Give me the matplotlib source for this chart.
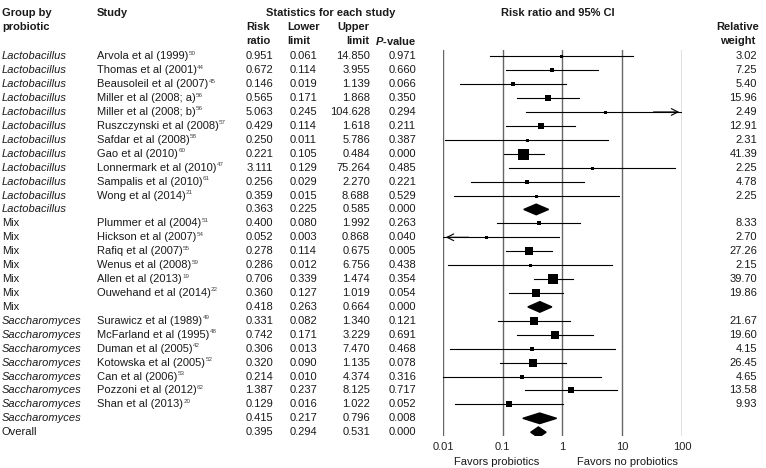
import numpy as np
import matplotlib
matplotlib.use("Agg")
import matplotlib.pyplot as plt
from matplotlib.transforms import blended_transform_factory
from matplotlib.patches import Polygon

plt.rcParams['font.family'] = ['Liberation Sans', 'DejaVu Sans']
plt.rcParams['mathtext.fontset'] = 'custom'
plt.rcParams['mathtext.rm'] = 'Liberation Sans'
plt.rcParams['mathtext.it'] = 'Liberation Sans:italic:bold'

# data
groups = ['Lactobacillus'] * 12 + ['Mix'] * 7 + ['Saccharomyces'] * 8 + ['Overall']
studies = ['Arvola et al (1999)', 'Thomas et al (2001)', 'Beausoleil et al (2007)',
           'Miller et al (2008; a)', 'Miller et al (2008; b)', 'Ruszczynski et al (2008)',
           'Safdar et al (2008)', 'Gao et al (2010)', 'Lonnermark et al (2010)',
           'Sampalis et al (2010)', 'Wong et al (2014)', '',
           'Plummer et al (2004)', 'Hickson et al (2007)', 'Rafiq et al (2007)',
           'Wenus et al (2008)', 'Allen et al (2013)', 'Ouwehand et al (2014)', '',
           'Surawicz et al (1989)', 'McFarland et al (1995)', 'Duman et al (2005)',
           'Kotowska et al (2005)', 'Can et al (2006)', 'Pozzoni et al (2012)',
           'Shan et al (2013)', '', '']
refs = ['50', '44', '45', '56', '56', '57', '58', '60', '47', '61', '21', '',
        '51', '54', '55', '59', '19', '22', '',
        '49', '48', '42', '52', '53', '62', '20', '', '']
rr = [0.951, 0.672, 0.146, 0.565, 5.063, 0.429, 0.250, 0.221, 3.111, 0.256, 0.359, 0.363,
      0.400, 0.052, 0.278, 0.286, 0.706, 0.360, 0.418,
      0.331, 0.742, 0.306, 0.320, 0.214, 1.387, 0.129, 0.415, 0.395]
lower = [0.061, 0.114, 0.019, 0.171, 0.245, 0.114, 0.011, 0.105, 0.129, 0.029, 0.015, 0.225,
         0.080, 0.003, 0.114, 0.012, 0.339, 0.127, 0.263,
         0.082, 0.171, 0.013, 0.090, 0.010, 0.237, 0.016, 0.217, 0.294]
upper = [14.850, 3.955, 1.139, 1.868, 104.628, 1.618, 5.786, 0.484, 75.264, 2.270, 8.688, 0.585,
         1.992, 0.868, 0.675, 6.756, 1.474, 1.019, 0.664,
         1.340, 3.229, 7.470, 1.135, 4.374, 8.125, 1.022, 0.796, 0.531]
pval = [0.971, 0.660, 0.066, 0.350, 0.294, 0.211, 0.387, 0.000, 0.485, 0.221, 0.529, 0.000,
        0.263, 0.040, 0.005, 0.438, 0.354, 0.054, 0.000,
        0.121, 0.691, 0.468, 0.078, 0.316, 0.717, 0.052, 0.008, 0.000]
weight = [3.02, 7.25, 5.40, 15.96, 2.49, 12.91, 2.31, 41.39, 2.25, 4.78, 2.25, np.nan,
          8.33, 2.70, 27.26, 2.15, 39.70, 19.86, np.nan,
          21.67, 19.60, 4.15, 26.45, 4.65, 13.58, 9.93, np.nan, np.nan]
xticks = [0.01, 0.1, 1, 10, 100]
xticklabels = ['0.01', '0.1', '1', '10', '100']

W, H = 766, 468
fig = plt.figure(figsize=(W / 100, H / 100), dpi=100)

def fx(x):
    return x / W

def fy(y):
    return 1 - y / H

n = len(rr)
ax = fig.add_axes([fx(443), fy(436), (682 - 443) / W, (436 - 50) / H])
ax.set_xscale('log')
ax.set_xlim(0.01, 100)
ax.set_ylim(n - 1 + 0.27, -0.45)
for s in ax.spines.values():
    s.set_visible(False)
ax.set_yticks([])
ax.set_xticks(xticks)
ax.set_xticklabels(xticklabels, fontsize=8, color='#222222')
ax.minorticks_off()
ax.tick_params(axis='x', length=0, pad=4)
for t in xticks:
    ax.axvline(t, color='#666666', lw=1, zorder=1)

fs = 8
tc = '#1a1a1a'
tr = blended_transform_factory(fig.transFigure, ax.transData)
for i in range(n):
    g = groups[i]
    style = 'italic' if g in ('Lactobacillus', 'Saccharomyces') else 'normal'
    fig.text(fx(2), i, g, transform=tr, fontsize=fs, style=style, va='center', color=tc)
    if studies[i]:
        st = fig.text(fx(97), i, studies[i], transform=tr, fontsize=fs, va='center', color=tc)
        # tiny superscript reference number
        ax.annotate(refs[i], xy=(1, 0.8), xycoords=st, xytext=(0.2, 0), textcoords='offset points',
                    fontsize=4.5, color='#444444', va='center', ha='left', annotation_clip=False)
    fig.text(fx(273), i, f'{rr[i]:.3f}', transform=tr, fontsize=fs, va='center', ha='right', color=tc)
    fig.text(fx(317), i, f'{lower[i]:.3f}', transform=tr, fontsize=fs, va='center', ha='right', color=tc)
    fig.text(fx(370), i, f'{upper[i]:.3f}', transform=tr, fontsize=fs, va='center', ha='right', color=tc)
    fig.text(fx(416), i, f'{pval[i]:.3f}', transform=tr, fontsize=fs, va='center', ha='right', color=tc)
    if not np.isnan(weight[i]):
        fig.text(fx(757), i, f'{weight[i]:.2f}', transform=tr, fontsize=fs, va='center', ha='right', color=tc)

    if np.isnan(weight[i]):
        # summary diamond
        h = 0.38
        d = Polygon([[lower[i], i], [rr[i], i - h], [upper[i], i], [rr[i], i + h]],
                    closed=True, color='black', zorder=3)
        ax.add_patch(d)
    else:
        lo = max(lower[i], 0.01)
        hi = min(upper[i], 100)
        ax.plot([lo, hi], [i, i], color='black', lw=0.8, zorder=2)
        if upper[i] > 100:
            ax.annotate('', xy=(100, i), xytext=(30, i), annotation_clip=False,
                        arrowprops=dict(arrowstyle='->', lw=0.8, color='black', mutation_scale=12))
        if lower[i] < 0.01:
            ax.annotate('', xy=(0.01, i), xytext=(0.03, i), annotation_clip=False,
                        arrowprops=dict(arrowstyle='->', lw=0.8, color='black', mutation_scale=12))
        side = max(11 * np.sqrt(weight[i] / 41.39), 3) * 0.72
        ax.scatter([rr[i]], [i], marker='s', s=side ** 2, color='black', zorder=4, linewidths=0)

# headers
bold = dict(fontsize=fs, fontweight='bold', color=tc)
fig.text(fx(2), fy(13), 'Group by', va='center', **bold)
fig.text(fx(2), fy(27), 'probiotic', va='center', **bold)
fig.text(fx(97), fy(13), 'Study', va='center', **bold)
fig.text(fx(331), fy(13), 'Statistics for each study', va='center', ha='center', **bold)
fig.text(fx(246), fy(27), 'Risk', va='center', **bold)
fig.text(fx(246), fy(41), 'ratio', va='center', **bold)
fig.text(fx(287), fy(27), 'Lower', va='center', **bold)
fig.text(fx(287), fy(41), 'limit', va='center', **bold)
fig.text(fx(369), fy(27), 'Upper', va='center', ha='right', **bold)
fig.text(fx(369), fy(41), 'limit', va='center', ha='right', **bold)
fig.text(fx(416), fy(41), r'$\mathit{P}$-value', va='center', ha='right', **bold)
fig.text(fx(558), fy(13), 'Risk ratio and 95% CI', va='center', ha='center', **bold)
fig.text(fx(738), fy(27), 'Relative', va='center', ha='center', **bold)
fig.text(fx(738), fy(41), 'weight', va='center', ha='center', **bold)

fig.text(fx(497), fy(462), 'Favors probiotics', va='center', ha='center', fontsize=fs, color=tc)
fig.text(fx(627), fy(462), 'Favors no probiotics', va='center', ha='center', fontsize=fs, color=tc)

fig.savefig('out.png', dpi=100)
